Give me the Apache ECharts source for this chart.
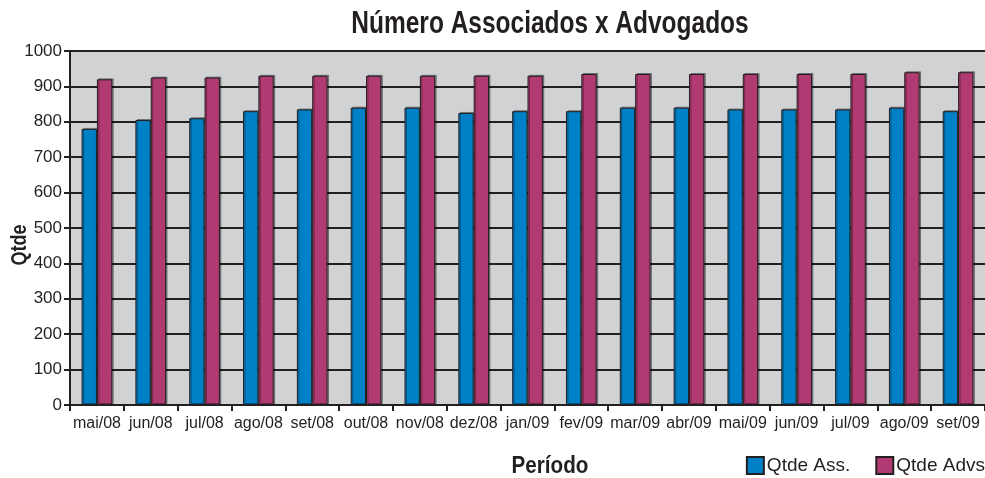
<!DOCTYPE html>
<html>
<head>
<meta charset="utf-8">
<script src="https://cdn.jsdelivr.net/npm/echarts@6/dist/echarts.min.js"></script>
<style>
html, body { margin: 0; padding: 0; background: #fff; }
#chart { width: 985px; height: 478px; }
</style>
</head>
<body>
<div id="chart"></div>
<script>
var periodos = ['mai/08', 'jun/08', 'jul/08', 'ago/08', 'set/08', 'out/08', 'nov/08', 'dez/08', 'jan/09',
	'fev/09', 'mar/09', 'abr/09', 'mai/09', 'jun/09', 'jul/09', 'ago/09', 'set/09'];
var qtdeAss = [780, 805, 810, 830, 835, 840, 840, 825, 830, 830, 840, 840, 835, 835, 835, 840, 830];
var qtdeAdvs = [920, 925, 925, 930, 930, 930, 930, 930, 930, 935, 935, 935, 935, 935, 935, 940, 940];
var yTicks = [0, 100, 200, 300, 400, 500, 600, 700, 800, 900, 1000];

var font = '"Liberation Sans", Arial, sans-serif';
var ink = '#231f20';

var chart = echarts.init(document.getElementById('chart'));

// sombra leve das barras, igual ao original
var barStyle = function (color) {
	return {
		color : color,
		borderColor : ink,
		borderWidth : 1,
		shadowColor : 'rgba(0,0,0,0.35)',
		shadowOffsetX : 1.5,
		shadowOffsetY : -1
	};
};

// textos em fonte condensada: sem Helvetica Condensed, estreita-se a Liberation com scaleX
var narrowText = function (text, x, y, size, sx, rot) {
	return {
		type : 'text',
		x : x,
		y : y,
		scaleX : sx,
		rotation : rot || 0,
		style : {
			text : text,
			fontFamily : font,
			fontSize : size,
			fontWeight : 'bold',
			fill : ink,
			align : 'center',
			verticalAlign : 'middle'
		}
	};
};

chart.setOption({
	animation : false,
	textStyle : { fontFamily : font },
	legend : {
		right : 0,
		top : 456,
		padding : 0,
		icon : 'rect',
		itemWidth : 17,
		itemHeight : 17,
		itemGap : 25,
		textStyle : { fontFamily : font, fontSize : 19, color : ink, padding : [0, 0, 0, -2] },
		data : [ 'Qtde Ass.', 'Qtde Advs' ]
	},
	graphic : [
		narrowText('Número Associados x Advogados', 550, 24, 31, 0.79),
		narrowText('Período', 550, 466, 24, 0.86),
		narrowText('Qtde', 20, 245, 22, 0.82, Math.PI / 2)
	],
	grid : {
		left : 70,
		right : 0,
		top : 51,
		bottom : 73,
		show : true,
		backgroundColor : '#d1d2d4',
		borderWidth : 0
	},
	xAxis : {
		type : 'category',
		data : periodos,
		axisLine : { lineStyle : { color : ink, width : 2 } },
		axisTick : { show : true, length : 6, lineStyle : { color : ink, width : 2 } },
		axisLabel : { fontFamily : font, fontSize : 16, color : ink, margin : 11, interval : 0 }
	},
	yAxis : {
		type : 'value',
		min : yTicks[0],
		max : yTicks[yTicks.length - 1],
		interval : 100,
		axisLine : { show : true, lineStyle : { color : ink, width : 2 } },
		axisTick : { show : true, length : 6, lineStyle : { color : ink, width : 2 } },
		axisLabel : { fontFamily : font, fontSize : 17, color : ink, margin : 8,
			formatter : function (v) { return String(v); } },
		splitLine : { show : true, lineStyle : { color : ink, width : 2 } }
	},
	series : [ {
		name : 'Qtde Ass.',
		type : 'bar',
		data : qtdeAss,
		barGap : '0%',
		barCategoryGap : '43%',
		itemStyle : barStyle('#0080c6')
	}, {
		name : 'Qtde Advs',
		type : 'bar',
		data : qtdeAdvs,
		itemStyle : barStyle('#b23a72')
	} ]
});
</script>
</body>
</html>
